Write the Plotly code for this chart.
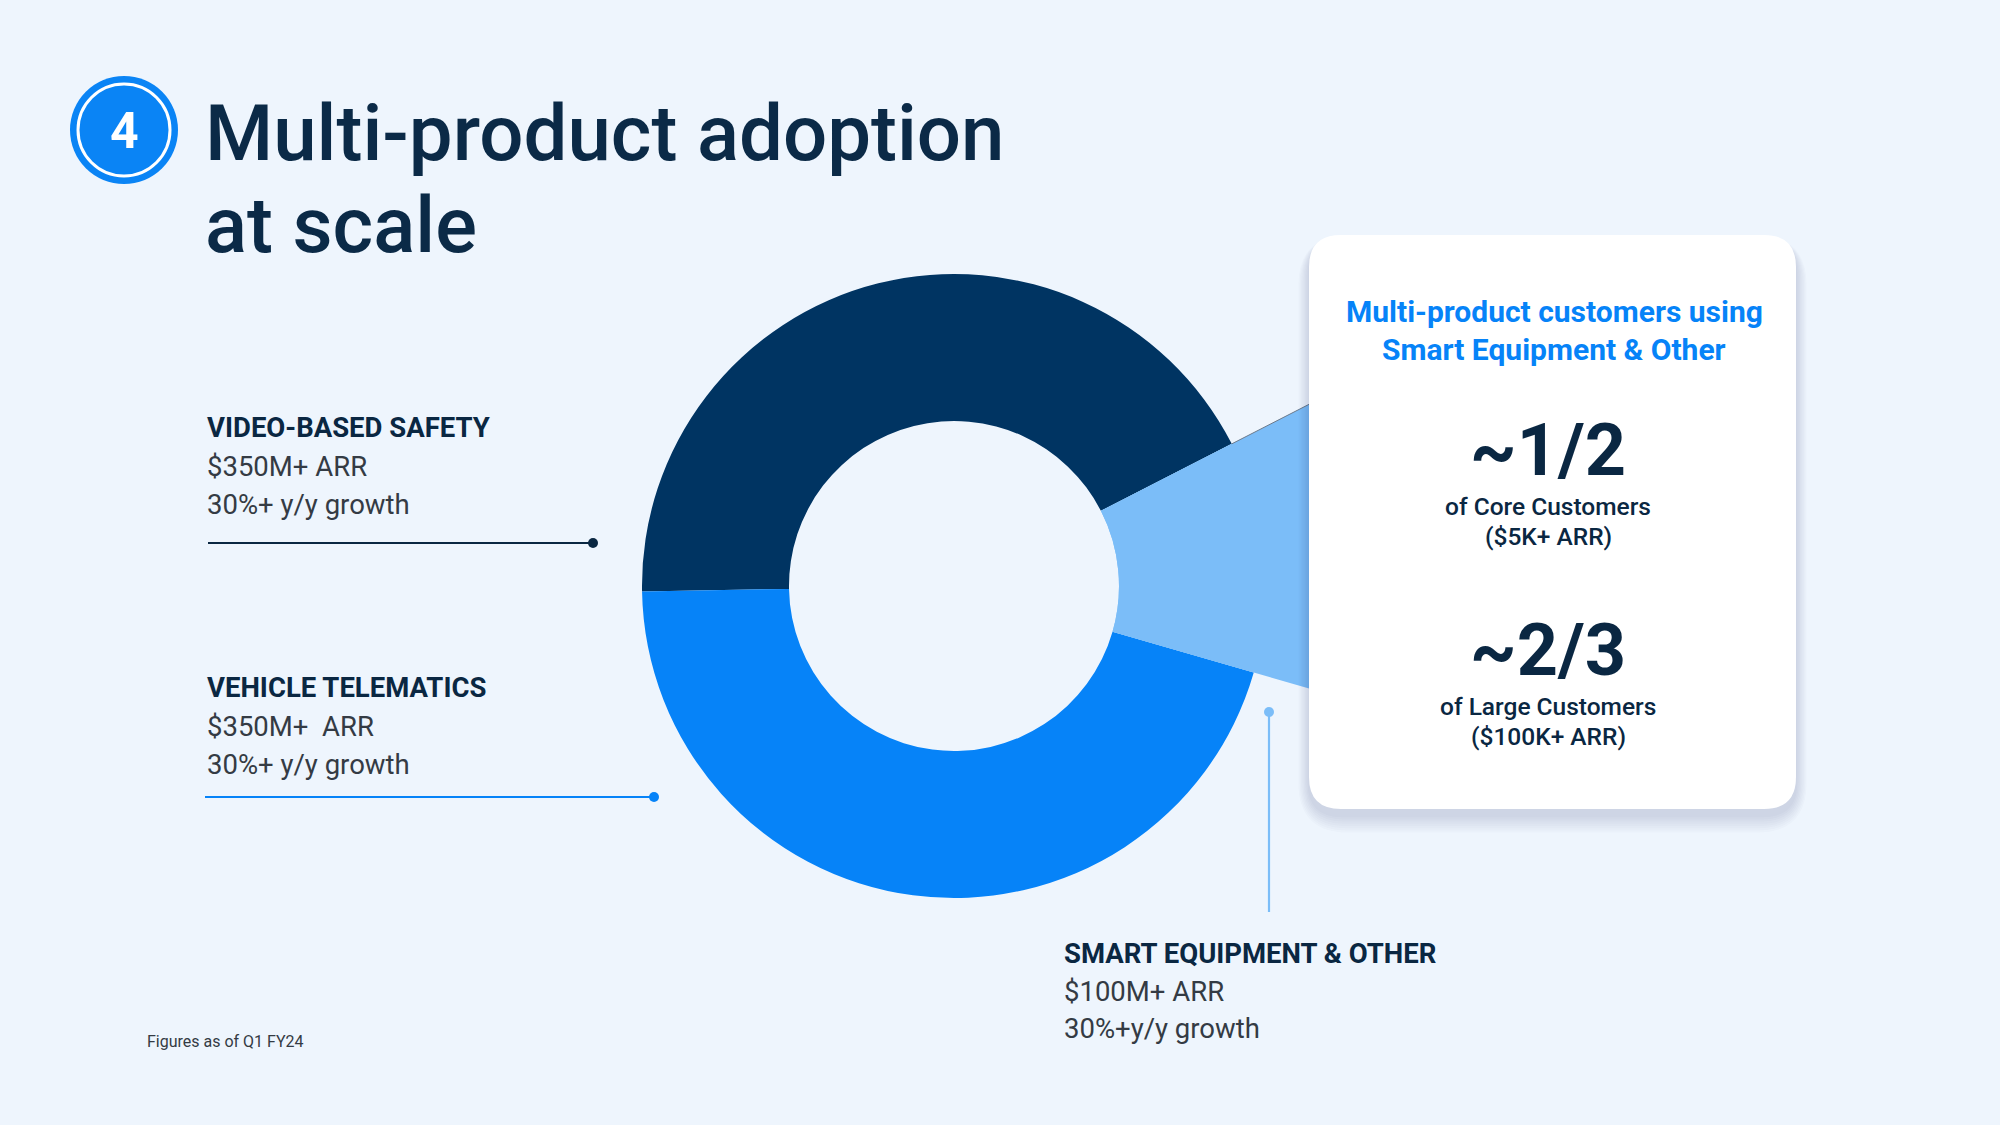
import math
import plotly.graph_objects as go

W, H = 2000, 1125

# ---------------- data ----------------
segments = ["Video-Based Safety", "Vehicle Telematics", "Smart Equipment & Other"]
slice_share = [342, 362, 96]          # slice sizes (ARR, $M)
seg_colors = ["#003462", "#0683F8", "#7BBDF8"]

title_lines = ["Multi-product adoption", "at scale"]
badge_text = "4"

seg_heads = ["VIDEO-BASED SAFETY", "VEHICLE TELEMATICS", "SMART EQUIPMENT & OTHER"]
seg_arr_txt = ["$350M+ ARR", "$350M+  ARR", "$100M+ ARR"]
seg_growth_txt = ["30%+ y/y growth", "30%+ y/y growth", "30%+y/y growth"]

card_title = ["Multi-product customers using", "Smart Equipment & Other"]
card_stats = ["~1/2", "~2/3"]
card_desc = [["of Core Customers", "($5K+ ARR)"], ["of Large Customers", "($100K+ ARR)"]]
footnote = "Figures as of Q1 FY24"

# ---------------- styles ----------------
BG = "#EEF5FD"
NAVY = "#0A2742"
GRAY = "#343B44"
BLUE = "#0683F8"
FONT = "Roboto"

cx, cy = 954, 586          # donut centre (px from top-left)
r_out, r_in = 312, 165
r_wedge = 440
ROT = -91                  # clock angle where first slice begins

def pie_domain(r):
    cyb = H - cy
    return dict(x=[(cx - r) / W, (cx + r) / W], y=[(cyb - r) / H, (cyb + r) / H])

fig = go.Figure()

# invisible pixel-space axes for annotations / shapes
fig.add_trace(go.Scatter(x=[0, W], y=[0, H], mode="markers",
                         marker=dict(opacity=0), hoverinfo="skip", showlegend=False))

# main donut
fig.add_trace(go.Pie(
    labels=segments, values=slice_share, sort=False, direction="counterclockwise",
    rotation=ROT, hole=r_in / r_out, domain=pie_domain(r_out),
    marker=dict(colors=seg_colors, line=dict(width=0)),
    textinfo="none", hoverinfo="skip", showlegend=False))

# extended wedge for Smart Equipment slice (runs under the card)
wedge_colors = ["rgba(0,0,0,0)", "rgba(0,0,0,0)", seg_colors[2]]
fig.add_trace(go.Pie(
    labels=segments, values=slice_share, sort=False, direction="counterclockwise",
    rotation=ROT, hole=r_in / r_wedge, domain=pie_domain(r_wedge),
    marker=dict(colors=wedge_colors, line=dict(width=0)),
    textinfo="none", hoverinfo="skip", showlegend=False))

shapes = []
ann = []

def rrect(x0, y0, x1, y1, r):
    return (f"M{x0+r},{y0} L{x1-r},{y0} Q{x1},{y0} {x1},{y0+r} L{x1},{y1-r} "
            f"Q{x1},{y1} {x1-r},{y1} L{x0+r},{y1} Q{x0},{y1} {x0},{y1-r} "
            f"L{x0},{y0+r} Q{x0},{y0} {x0+r},{y0} Z")

card = (1309, 235, 1796, 809)

# thin edge line on the upper side of the extended wedge (derived from slice angle)
edge_clock = ROT + 360 * slice_share[0] / sum(slice_share)
edge_math = math.radians(90 - edge_clock)
ex0, ey0 = cx + r_out * math.cos(edge_math), cy - r_out * math.sin(edge_math)
t_end = (card[0] - cx) / math.cos(edge_math)
ex1, ey1 = cx + t_end * math.cos(edge_math), cy - t_end * math.sin(edge_math)
shapes.append(dict(type="line", xref="x", yref="y", x0=ex0, y0=ey0, x1=ex1, y1=ey1,
                   line=dict(color="#6B7A8C", width=1), layer="above"))

# card shadow + card
for i in range(8, 0, -1):
    d = i * 2.2
    shapes.append(dict(type="path", xref="x", yref="y", layer="above",
                       path=rrect(card[0] - d * 0.6, card[1] - d * 0.3 + 6, card[2] + d * 0.6,
                                  card[3] + d + 6, 32 + d),
                       fillcolor="rgba(30,60,110,0.018)", line=dict(width=0)))
shapes.append(dict(type="path", xref="x", yref="y", layer="above",
                   path=rrect(*card, 32), fillcolor="#FFFFFF", line=dict(width=0)))

# badge
bx, by = 124, 130
shapes.append(dict(type="circle", xref="x", yref="y", layer="above",
                   x0=bx - 54, x1=bx + 54, y0=by - 54, y1=by + 54,
                   fillcolor="#0A84F5", line=dict(width=0)))
shapes.append(dict(type="circle", xref="x", yref="y", layer="above",
                   x0=bx - 46, x1=bx + 46, y0=by - 46, y1=by + 46,
                   fillcolor="rgba(0,0,0,0)", line=dict(color="white", width=3)))
ann.append(dict(x=bx, y=by + 1, text=f"<b>{badge_text}</b>", showarrow=False,
                font=dict(family=FONT, size=50, color="white"),
                xanchor="center", yanchor="middle"))

# title
for i, t in enumerate(title_lines):
    ann.append(dict(x=203, y=133 + i * 92, text=t, showarrow=False,
                    font=dict(family=FONT, size=78, color="#0B2A47", weight=500),
                    xanchor="left", yanchor="middle"))

# left labels
label_pos = [(205, 427), (205, 687)]
for k in range(2):
    x0, y0 = label_pos[k]
    ann.append(dict(x=x0, y=y0, text=f"<b>{seg_heads[k]}</b>", showarrow=False,
                    font=dict(family=FONT, size=27.5, color=NAVY),
                    xanchor="left", yanchor="middle"))
    ann.append(dict(x=x0, y=y0 + 39, text=seg_arr_txt[k], showarrow=False,
                    font=dict(family=FONT, size=27.5, color=GRAY),
                    xanchor="left", yanchor="middle"))
    ann.append(dict(x=x0, y=y0 + 77, text=seg_growth_txt[k], showarrow=False,
                    font=dict(family=FONT, size=27.5, color=GRAY),
                    xanchor="left", yanchor="middle"))

# leader lines
leaders = [((208, 543), (593, 543), NAVY), ((205, 797), (654, 797), BLUE)]
for (a, b, c) in leaders:
    shapes.append(dict(type="line", xref="x", yref="y", x0=a[0], y0=a[1], x1=b[0], y1=b[1],
                       line=dict(color=c, width=2.2), layer="above"))
    shapes.append(dict(type="circle", xref="x", yref="y", x0=b[0] - 5, x1=b[0] + 5,
                       y0=b[1] - 5, y1=b[1] + 5, fillcolor=c, line=dict(width=0), layer="above"))

# smart equipment leader + label
sx = 1269
shapes.append(dict(type="line", xref="x", yref="y", x0=sx, y0=712, x1=sx, y1=912,
                   line=dict(color=seg_colors[2], width=2.2), layer="above"))
shapes.append(dict(type="circle", xref="x", yref="y", x0=sx - 5, x1=sx + 5, y0=707, y1=717,
                   fillcolor=seg_colors[2], line=dict(width=0), layer="above"))
lx, ly = 1062, 953
ann.append(dict(x=lx, y=ly, text=f"<b>{seg_heads[2]}</b>", showarrow=False,
                font=dict(family=FONT, size=27.5, color=NAVY), xanchor="left", yanchor="middle"))
ann.append(dict(x=lx, y=ly + 38, text=seg_arr_txt[2], showarrow=False,
                font=dict(family=FONT, size=27.5, color=GRAY), xanchor="left", yanchor="middle"))
ann.append(dict(x=lx, y=ly + 75, text=seg_growth_txt[2], showarrow=False,
                font=dict(family=FONT, size=27.5, color=GRAY), xanchor="left", yanchor="middle"))

# card text
ccx = 1554
for i, t in enumerate(card_title):
    ann.append(dict(x=ccx, y=311 + i * 38, text=f"<b>{t}</b>", showarrow=False,
                    font=dict(family=FONT, size=30, color=BLUE),
                    xanchor="center", yanchor="middle"))
stat_y = [450, 650]
for k in range(2):
    ann.append(dict(x=1548, y=stat_y[k], text=f"<b>{card_stats[k]}</b>", showarrow=False,
                    font=dict(family=FONT, size=72, color=NAVY),
                    xanchor="center", yanchor="middle"))
    for j, t in enumerate(card_desc[k]):
        ann.append(dict(x=1548, y=stat_y[k] + 56 + j * 30, text=t, showarrow=False,
                        font=dict(family=FONT, size=24.5, color=NAVY, weight=500),
                        xanchor="center", yanchor="middle"))

# footnote
ann.append(dict(x=145, y=1041, text=footnote, showarrow=False,
                font=dict(family=FONT, size=16, color=GRAY), xanchor="left", yanchor="middle"))

fig.update_layout(
    width=W, height=H, margin=dict(l=0, r=0, t=0, b=0),
    paper_bgcolor=BG, plot_bgcolor=BG,
    xaxis=dict(range=[0, W], visible=False, fixedrange=True),
    yaxis=dict(range=[H, 0], visible=False, fixedrange=True),
    shapes=shapes, annotations=ann, showlegend=False,
)

fig.write_html("out.html", config={"displayModeBar": False},
               post_script="document.body.style.margin='0';document.body.style.overflow='hidden';")
